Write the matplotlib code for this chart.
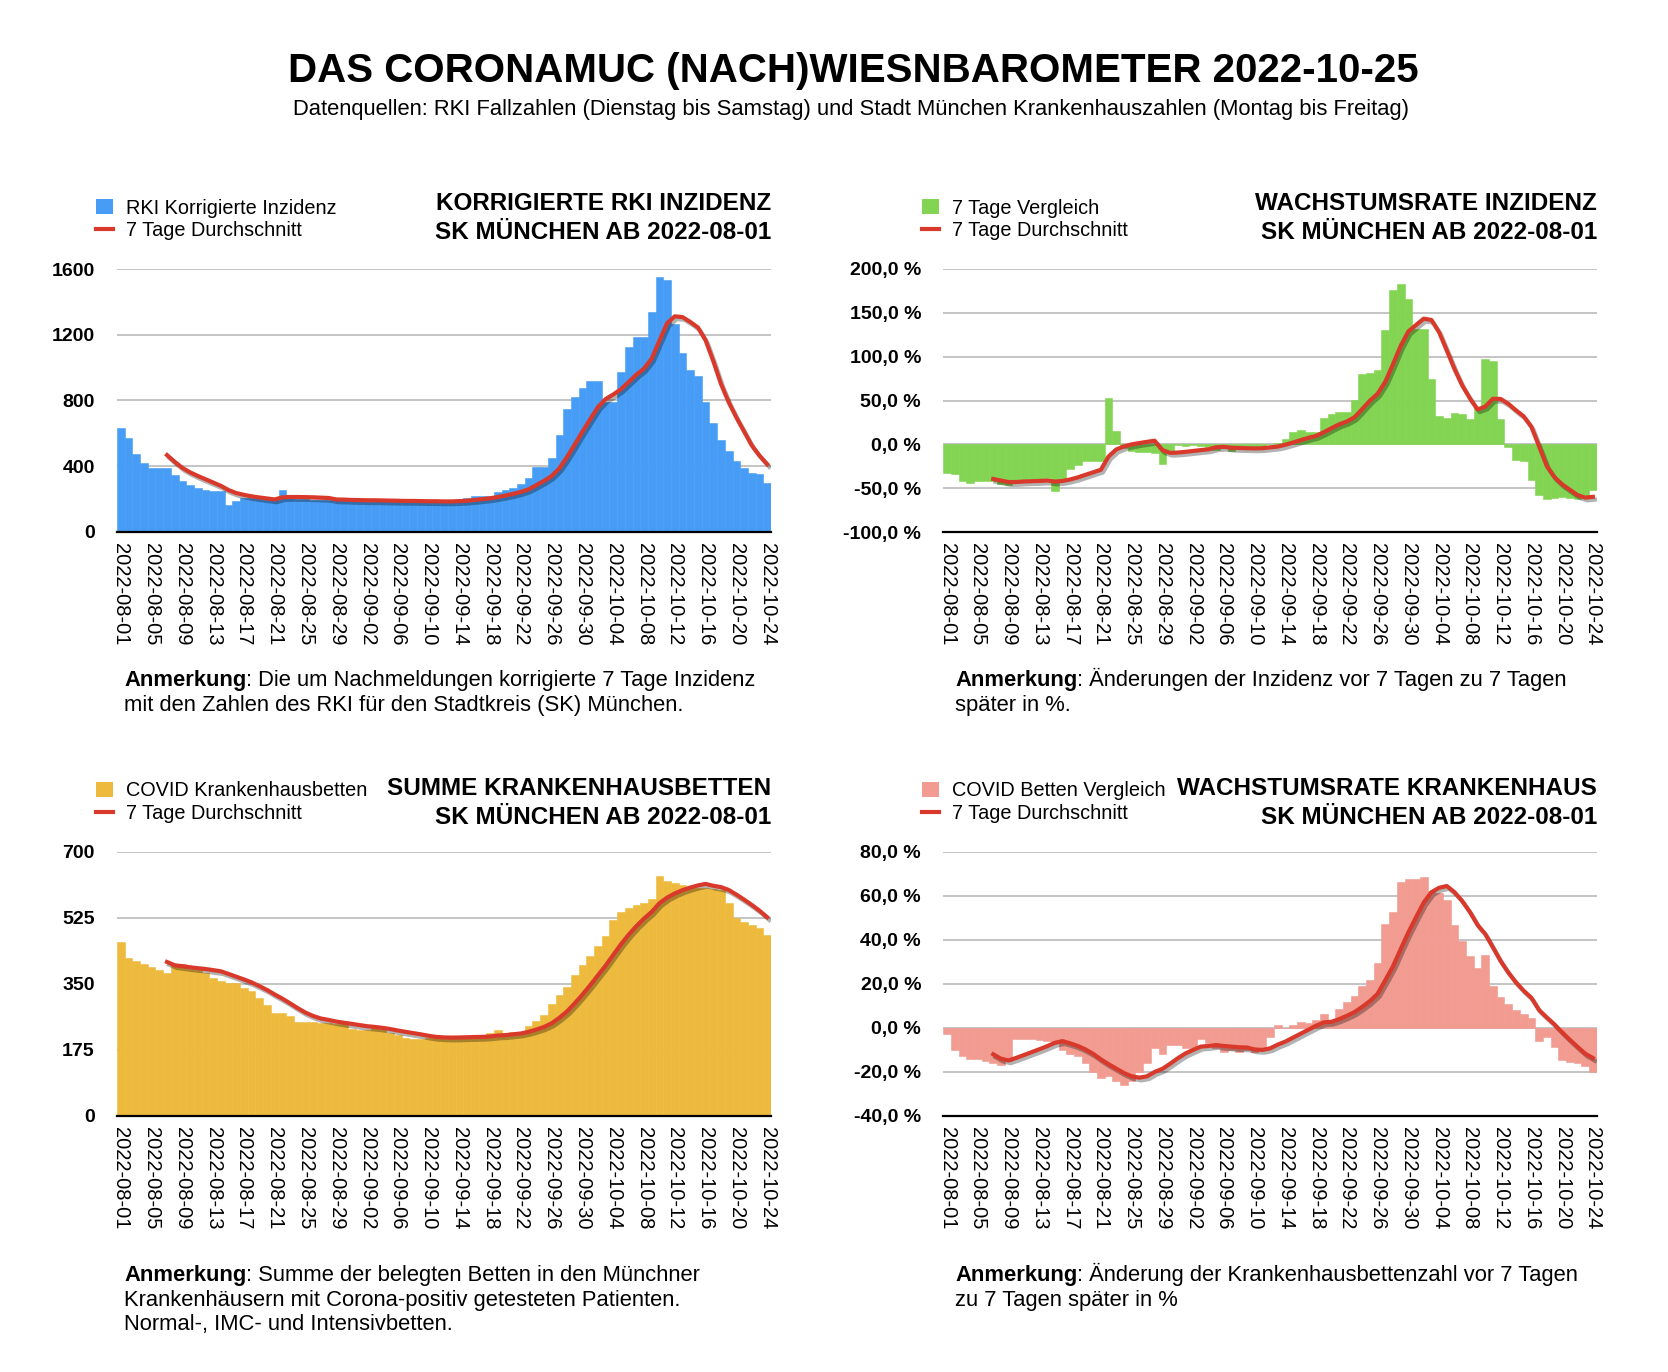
import numpy as np
import pandas as pd
import matplotlib
matplotlib.use("Agg")
import matplotlib.pyplot as plt
import matplotlib.patheffects as pe
from matplotlib.patches import Patch
from matplotlib.lines import Line2D

plt.rcParams['font.family'] = ['Liberation Sans', 'DejaVu Sans']

W, H = 1668, 1372

# one bar per day, 2022-08-01 .. 2022-10-24
days = pd.date_range('2022-08-01', '2022-10-24', freq='D')
day_labels = [d.strftime('%Y-%m-%d') for d in days]
avg_start = 6  # the 7 day lines start on 2022-08-07

inzidenz = [632, 571, 474, 419, 390, 390, 390, 346, 311, 285,
            267, 254, 248, 248, 163, 188, 204, 205, 205, 206,
            206, 256, 205, 200, 198, 196, 195, 195, 193, 192,
            192, 190, 190, 190, 188, 188, 187, 186, 185, 185,
            184, 184, 185, 188, 195, 204, 218, 218, 218, 240,
            254, 265, 291, 328, 395, 395, 449, 589, 746, 821,
            875, 918, 918, 788, 788, 971, 1123, 1186, 1186, 1340,
            1551, 1533, 1265, 1087, 985, 948, 792, 662, 559, 492,
            433, 390, 356, 354, 297]
inzidenz_avg = [467, 426, 389, 362, 340, 320, 300, 280, 254, 236,
                225, 216, 209, 203, 197, 210, 212, 212, 211, 210,
                208, 206, 197, 196, 194, 193, 192, 192, 191, 190,
                189, 188, 188, 187, 186, 186, 185, 185, 187, 189,
                194, 199, 204, 212, 221, 231, 243, 259, 284, 310,
                340, 387, 456, 532, 610, 685, 759, 808, 836, 868,
                912, 956, 994, 1055, 1164, 1270, 1312, 1307, 1278, 1244,
                1166, 1039, 900, 789, 696, 611, 526, 464, 412]

wachstum_inz = [-32.4, -33.1, -41.5, -43.9, -41.5, -41.5, -41.5, -44.6, -45.7, -40.7,
                -40.0, -39.5, -39.0, -38.5, -53.0, -40.7, -28.5, -23.6, -18.7, -18.7,
                -18.7, 52.9, 15.2, -4.0, -7.3, -8.4, -8.4, -9.6, -22.5, -7.3,
                -1.0, -1.9, -1.0, -1.5, -3.0, -6.5, -4.0, -8.0, -4.0, -3.0,
                -3.0, -1.5, 0.5, 2.2, 6.8, 13.7, 16.3, 14.4, 14.4, 29.7,
                34.6, 36.9, 36.9, 50.2, 80.3, 81.0, 84.9, 130.5, 176.2, 183.0,
                165.9, 131.6, 131.6, 74.5, 32.5, 30.4, 35.7, 34.6, 28.9, 43.0,
                97.3, 95.1, 28.9, -2.7, -17.9, -19.0, -40.3, -57.8, -62.7, -60.8,
                -60.1, -60.5, -62.0, -60.0, -52.1]
wachstum_inz_avg = [-39.3, -41.1, -42.9, -42.8, -42.2, -41.9, -41.6, -41.1, -42.3, -41.6,
                    -39.9, -37.5, -34.6, -31.7, -28.8, -13.7, -5.7, -2.2, 0.1, 1.6,
                    3.0, 4.3, -6.4, -9.6, -9.2, -8.4, -7.4, -6.4, -5.5, -3.2,
                    -2.7, -3.7, -4.0, -4.3, -4.5, -4.3, -3.3, -2.4, -0.3, 2.2,
                    5.0, 7.5, 9.8, 13.9, 18.6, 22.9, 26.2, 31.0, 40.4, 49.9,
                    57.8, 71.5, 91.4, 112.3, 128.8, 136.2, 143.4, 141.9, 127.9, 107.1,
                    86.0, 67.3, 52.6, 39.9, 43.2, 52.1, 51.9, 46.4, 38.9, 32.1,
                    20.2, -2.0, -24.5, -37.3, -45.5, -51.6, -57.7, -60.6, -59.7]

betten = [461, 419, 410, 403, 394, 387, 379, 400, 402, 390,
          386, 379, 366, 357, 351, 351, 339, 331, 311, 294,
          273, 273, 264, 249, 249, 249, 247, 247, 242, 242,
          229, 227, 227, 234, 230, 220, 214, 205, 203, 204,
          207, 209, 211, 211, 207, 207, 208, 210, 218, 227,
          218, 223, 223, 238, 252, 266, 296, 320, 342, 373,
          400, 424, 450, 476, 519, 540, 550, 559, 565, 575,
          636, 623, 617, 611, 607, 605, 603, 601, 599, 564,
          525, 514, 506, 497, 479]
betten_avg = [407.6, 398.9, 396.4, 393.6, 391.1, 389.0, 386.0, 382.9, 375.9, 368.6,
              361.3, 353.4, 343.7, 333.4, 321.4, 310.3, 297.9, 285.0, 273.3, 264.4,
              257.7, 254.0, 249.6, 246.4, 243.6, 240.4, 237.3, 235.4, 233.0, 229.9,
              225.9, 222.4, 219.0, 215.7, 211.9, 208.9, 207.6, 207.1, 207.4, 208.0,
              208.6, 209.0, 210.3, 212.6, 213.6, 215.9, 218.1, 222.4, 228.4, 235.3,
              245.1, 259.7, 276.7, 298.1, 321.3, 345.9, 372.1, 397.9, 426.3, 454.6,
              479.9, 502.6, 522.7, 540.6, 563.4, 578.3, 589.3, 598.0, 604.9, 610.6,
              614.6, 609.6, 606.1, 598.6, 586.3, 573.0, 558.9, 543.7, 526.3]

wachstum_kh = [-3, -10, -13, -14, -14, -15, -16, -17, -15, -5,
               -5, -5, -5.5, -6, -6.5, -10, -12, -13, -16, -20,
               -23, -22, -24, -26, -24, -20, -16, -9, -12, -8,
               -8, -9, -9, -5, -7, -9, -11, -10, -11, -10,
               -11, -9, -4, 1.2, 0, 1.2, 2.4, 2.0, 3.5, 6.2,
               3.5, 8.5, 11.5, 14.4, 18.9, 21.7, 29.3, 47.0, 52.4, 66.4,
               67.4, 67.4, 68.3, 62.0, 61.1, 58.0, 46.7, 39.4, 32.7, 27.0,
               33.0, 18.9, 14.1, 10.6, 8.1, 6.2, 4.2, -5.9, -4.1, -8.6,
               -14.7, -15.5, -16.2, -17.4, -20.0]
wachstum_kh_avg = [-12.1, -14.1, -14.9, -13.7, -12.4, -11.1, -9.8, -8.4, -6.9, -6.1,
                   -7.1, -8.3, -9.9, -11.9, -14.4, -16.6, -18.6, -20.6, -22.1, -22.7,
                   -22.1, -20.1, -18.7, -16.4, -13.9, -11.7, -10.1, -8.6, -8.3, -7.9,
                   -8.3, -8.6, -8.9, -9.0, -9.9, -10.1, -9.4, -7.7, -6.3, -4.5,
                   -2.7, -0.9, 0.9, 2.4, 2.7, 3.9, 5.4, 7.1, 9.5, 12.1,
                   15.4, 21.6, 27.9, 35.7, 43.3, 50.2, 56.9, 61.6, 63.6, 64.4,
                   61.6, 57.6, 52.6, 46.7, 42.6, 36.5, 30.3, 25.1, 20.6, 16.8,
                   13.6, 8.0, 4.7, 1.5, -2.1, -5.5, -8.7, -11.8, -13.8]

ticks_inz = [0, 400, 800, 1200, 1600]
ticks_winz = [-100, -50, 0, 50, 100, 150, 200]
ticks_bet = [0, 175, 350, 525, 700]
ticks_wkh = [-40, -20, 0, 20, 40, 60, 80]

BLUE = '#479df5'
GREEN = '#82d452'
YELLOW = '#eeba3e'
PINK = '#f19b91'
RED = '#d9392a'
GRID = '#b4b4b4'


def pct(v):
    return f"{v:.1f}".replace('.', ',') + ' %'


fig = plt.figure(figsize=(W / 100, H / 100), dpi=100)


def fx(x):
    return x / W


def fy(y):
    return 1 - y / H


def panel(box, bars, avg, color, bar_label, yticks, ylabels):
    left, top, right, bottom = box
    ax = fig.add_axes([fx(left), fy(bottom), (right - left) / W, (bottom - top) / H])
    x = np.arange(len(bars))
    ax.bar(x, bars, width=1.0, color=color, edgecolor=color, linewidth=0.4, zorder=2)
    xa = np.arange(avg_start, avg_start + len(avg))
    ax.plot(xa, avg, color=RED, lw=3, zorder=3,
            path_effects=[pe.SimpleLineShadow(offset=(1.5, -2), shadow_color='black', alpha=0.3),
                          pe.Normal()])
    ax.set_xlim(-0.5, len(bars) - 0.5)
    ax.set_ylim(yticks[0], yticks[-1])
    ax.set_yticks(yticks)
    ax.set_yticklabels(ylabels, fontsize=14, fontweight='bold')
    ax.set_xticks(x[::4])
    ax.set_xticklabels(day_labels[::4], rotation=270, fontsize=14.5)
    ax.tick_params(axis='y', length=0, pad=16)
    ax.tick_params(axis='x', length=0, pad=8)
    ax.yaxis.grid(True, color=GRID, lw=1.1)
    ax.set_axisbelow(True)
    for s in ['top', 'left', 'right']:
        ax.spines[s].set_visible(False)
    ax.spines['bottom'].set_linewidth(1.6)
    ax.spines['bottom'].set_zorder(4)
    handles = [Patch(facecolor=color, edgecolor='none'), Line2D([], [], color=RED, lw=3)]
    ax.legend(handles, [bar_label, '7 Tage Durchschnitt'], loc='upper left',
              bbox_to_anchor=(fx(left - 21), fy(top - 70.5)), bbox_transform=fig.transFigure,
              frameon=False, fontsize=14.3, handlelength=0.85, handleheight=0.8,
              handletextpad=0.65, labelspacing=0.2, borderpad=0, borderaxespad=0)
    return ax


def heading(right, y, lines):
    for k, line in enumerate(lines):
        fig.text(fx(right), fy(y + 29 * k), line, ha='right', va='baseline',
                 fontsize=17.5, fontweight='bold')


def note(x, y, first, more, fs=15.8, lh=24.6):
    r = fig.canvas.get_renderer()
    t = fig.text(fx(x), fy(y), 'Anmerkung', fontsize=fs, fontweight='bold', va='baseline')
    bb = t.get_window_extent(renderer=r)
    fig.text(bb.x1 / W, fy(y), ': ' + first, fontsize=fs, va='baseline')
    for k, line in enumerate(more, 1):
        fig.text(fx(x), fy(y + k * lh), line, fontsize=fs, va='baseline')


fig.text(fx(853), fy(71), 'DAS CORONAMUC (NACH)WIESNBAROMETER 2022-10-25',
         ha='center', va='center', fontsize=29, fontweight='bold')
fig.text(fx(851), fy(110), 'Datenquellen: RKI Fallzahlen (Dienstag bis Samstag) und Stadt München '
         'Krankenhauszahlen (Montag bis Freitag)', ha='center', va='center', fontsize=15.8)

# top left
panel((117, 269, 771, 531.8), inzidenz, inzidenz_avg, BLUE, 'RKI Korrigierte Inzidenz',
      ticks_inz, [str(t) for t in ticks_inz])
heading(771, 210, ['KORRIGIERTE RKI INZIDENZ', 'SK MÜNCHEN AB 2022-08-01'])
note(124, 686, 'Die um Nachmeldungen korrigierte 7 Tage Inzidenz',
     ['mit den Zahlen des RKI für den Stadtkreis (SK) München.'])

# top right
panel((943.3, 269, 1596.7, 532.2), wachstum_inz, wachstum_inz_avg, GREEN, '7 Tage Vergleich',
      ticks_winz, [pct(t) for t in ticks_winz])
heading(1597, 210, ['WACHSTUMSRATE INZIDENZ', 'SK MÜNCHEN AB 2022-08-01'])
note(955, 686, 'Änderungen der Inzidenz vor 7 Tagen zu 7 Tagen', ['später in %.'])

# bottom left
panel((117, 851.7, 771, 1115.7), betten, betten_avg, YELLOW, 'COVID Krankenhausbetten',
      ticks_bet, [str(t) for t in ticks_bet])
heading(771, 795, ['SUMME KRANKENHAUSBETTEN', 'SK MÜNCHEN AB 2022-08-01'])
note(124, 1281, 'Summe der belegten Betten in den Münchner',
     ['Krankenhäusern mit Corona-positiv getesteten Patienten.',
      'Normal-, IMC- und Intensivbetten.'])

# bottom right
panel((943.3, 851.7, 1596.7, 1115.7), wachstum_kh, wachstum_kh_avg, PINK, 'COVID Betten Vergleich',
      ticks_wkh, [pct(t) for t in ticks_wkh])
heading(1597, 795, ['WACHSTUMSRATE KRANKENHAUS', 'SK MÜNCHEN AB 2022-08-01'])
note(955, 1281, 'Änderung der Krankenhausbettenzahl vor 7 Tagen', ['zu 7 Tagen später in %'])

fig.savefig('out.png', dpi=100)
